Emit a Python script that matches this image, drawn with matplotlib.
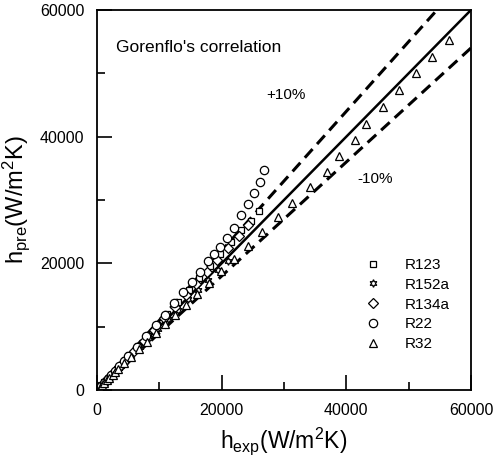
import matplotlib
matplotlib.use("Agg")
import matplotlib.pyplot as plt
from matplotlib.ticker import MultipleLocator

plt.rcParams['font.family'] = ['Liberation Sans', 'DejaVu Sans']
plt.rcParams['mathtext.fontset'] = 'custom'
plt.rcParams['mathtext.rm'] = 'Liberation Sans'
plt.rcParams['mathtext.it'] = 'Liberation Sans'

# ---- data ----
r123_x = [700, 1200, 1900, 2500, 3200, 3800, 4500, 5200, 6600, 8100, 9700, 11300, 13000, 14700, 16400, 18100, 19800, 21500, 23100, 24650, 25990]
r123_y = [720, 1250, 1970, 2600, 3300, 3950, 4700, 5450, 6900, 8550, 10300, 12000, 13900, 15800, 17700, 19600, 21500, 23400, 25200, 26700, 28260]

r152a_x = [500, 900, 1400, 1900, 2500, 3000, 3600, 4200, 5500, 6900, 8300, 9800, 11400, 13000, 14600, 16200, 17800, 19400, 21000]
r152a_y = [490, 880, 1380, 1870, 2450, 2950, 3550, 4150, 5400, 6800, 8200, 9650, 11200, 12700, 14300, 15800, 17300, 18900, 20400]

r134a_x = [600, 1000, 1500, 2100, 2700, 3300, 3900, 4600, 6000, 7500, 9100, 10800, 12500, 14200, 15900, 17600, 19300, 21000, 22700, 24300]
r134a_y = [610, 1020, 1540, 2150, 2770, 3400, 4020, 4750, 6200, 7800, 9500, 11300, 13100, 15000, 16800, 18700, 20500, 22400, 24300, 26000]

r22_x = [600, 1100, 1700, 2300, 2900, 3600, 4300, 5000, 6400, 7900, 9400, 10900, 12400, 13800, 15200, 16500, 17800, 18800, 19730, 20800, 21980, 23100, 24280, 25190, 26150, 26840]
r22_y = [620, 1150, 1780, 2400, 3050, 3800, 4550, 5300, 6850, 8500, 10200, 11900, 13700, 15400, 17100, 18700, 20300, 21500, 22630, 23950, 25530, 27630, 29370, 31050, 32890, 34740]

r32_x = [400, 800, 1200, 1600, 2000, 2500, 2900, 3400, 4400, 5500, 6700, 8000, 9400, 10900, 12500, 14200, 16000, 17900, 19900, 22000, 24200, 26500, 29040, 31330, 34170, 36900, 38770, 41440, 43160, 45830, 48450, 51120, 53690, 56470]
r32_y = [380, 770, 1150, 1540, 1920, 2400, 2780, 3250, 4200, 5250, 6400, 7600, 8950, 10350, 11850, 13400, 15100, 16900, 18800, 20700, 22800, 24900, 27370, 29470, 32000, 34370, 36950, 39470, 42000, 44740, 47370, 50100, 52530, 55260]

line_x = [0, 60000]
ratio_mid = 1.0
ratio_hi = 1.1
ratio_lo = 0.9

fig = plt.figure(figsize=(4.96, 4.59), dpi=100)
ax = fig.add_axes([0.1956, 0.1503, 0.754, 0.828])

ax.plot(line_x, [v * ratio_mid for v in line_x], color='black', lw=1.8)
ax.plot(line_x, [v * ratio_hi for v in line_x], color='black', lw=2.2, ls=(0, (3.8, 2.2)))
ax.plot(line_x, [v * ratio_lo for v in line_x], color='black', lw=2.2, ls=(0, (3.8, 2.2)))

mk = dict(ls='none', mfc='white', mec='black', mew=0.9)
ax.plot(r123_x, r123_y, marker='s', ms=5, label='R123', **mk)
ax.plot(r152a_x, r152a_y, marker=(6, 1, 0), ms=5.5, label='R152a', **mk)
ax.plot(r134a_x, r134a_y, marker='D', ms=4.8, label='R134a', **mk)
ax.plot(r22_x, r22_y, marker='o', ms=6, label='R22', **mk)
ax.plot(r32_x, r32_y, marker='^', ms=5.2, label='R32', **mk)

ax.set_xlim(0, 60000)
ax.set_ylim(0, 60000)
ax.xaxis.set_major_locator(MultipleLocator(20000))
ax.yaxis.set_major_locator(MultipleLocator(20000))
ax.xaxis.set_minor_locator(MultipleLocator(10000))
ax.yaxis.set_minor_locator(MultipleLocator(10000))
ax.tick_params(which='both', direction='in', top=False, right=False, labelsize=11.5, width=1.2)
ax.tick_params(which='major', length=11, pad=9)
ax.tick_params(which='minor', length=6)
for s in ax.spines.values():
    s.set_linewidth(1.3)

ax.set_xlabel(r'h$_{\mathrm{exp}}$(W/m$^{\mathrm{2}}$K)', fontsize=16.5, labelpad=6)
ax.set_ylabel(r'h$_{\mathrm{pre}}$(W/m$^{\mathrm{2}}$K)', fontsize=17, labelpad=6)

ax.text(3000, 54000, "Gorenflo's correlation", fontsize=12.5, va='center', ha='left')
ax.text(27200, 46500, '+10%', fontsize=11, va='center', ha='left')
ax.text(41700, 33300, '-10%', fontsize=11, va='center', ha='left')

leg = ax.legend(loc='center left', bbox_to_anchor=(0.70, 0.225), frameon=False,
                fontsize=11, labelspacing=0.38, handletextpad=1.6, handlelength=1.0,
                borderaxespad=0)

fig.savefig('out.png', dpi=100)
